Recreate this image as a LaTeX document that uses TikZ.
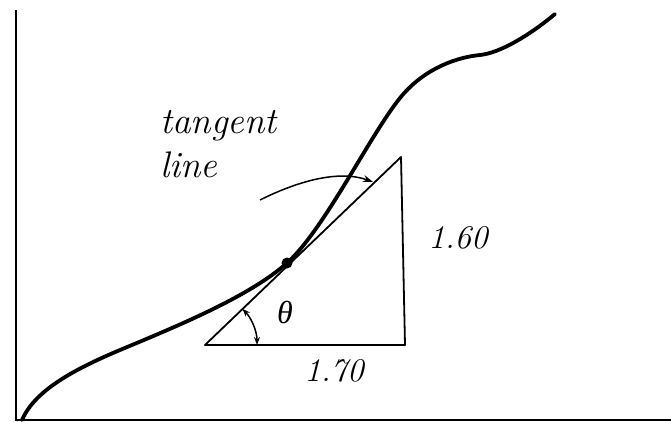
\documentclass[tikz,border=0pt]{standalone}
\usepackage{fontspec}
\newfontfamily\grkfont{Liberation Serif}
\usetikzlibrary{arrows.meta,calc}
\begin{document}
\begin{tikzpicture}[x=1pt,y=-1pt,
  axisline/.style={line width=2pt},
  curveline/.style={line width=3.8pt,line cap=round,line join=round},
  triline/.style={line width=1.8pt,line join=round},
  lbl/.style={inner sep=0pt,font=\fontsize{33}{40}\selectfont\itshape},
  biglbl/.style={inner sep=0pt,font=\fontsize{37}{44}\selectfont\itshape},
  ptr/.style={line width=1.5pt,-{Stealth[length=10pt,width=7pt]}}]
\useasboundingbox (0,0) rectangle (671,422);
% axes
\coordinate (ytop) at (16,10);
\coordinate (orig) at (16,420);
\coordinate (xend) at (671,420);
\draw[axisline] (ytop) -- (orig) -- (xend);
% curve
\coordinate (P) at (287,263);
\draw[curveline] (22,420) .. controls (35,390) and (75,369) .. (120,350)
  .. controls (180,325) and (250,296) .. (P)
  .. controls (324,230) and (370,135) .. (400,98)
  .. controls (420,73) and (450,58) .. (480,55)
  .. controls (500,53) and (530,35) .. (555,14);
% triangle
\coordinate (A) at (205,345);
\coordinate (B) at (405,345);
\coordinate (C) at (401,157);
\draw[triline] (A) -- (B) -- (C) -- cycle;
% point of tangency
\node[circle,fill=black,inner sep=0pt,minimum size=11pt] (dot) at (P) {};
% angle arc
\draw[line width=1.5pt,{Stealth[length=8pt,width=6pt]}-{Stealth[length=8pt,width=6pt]}]
  ($(A)+(-44:52)$) arc[start angle=-44,end angle=0,radius=52];
% labels
\node[biglbl,anchor=base west,align=left] (tl) at (160,178) {tangent\\line};
\coordinate (ts) at (260,200);
\coordinate (te) at (373,182);
\draw[ptr] (ts) .. controls (300,180) and (340,170) .. (te);
\node[inner sep=0pt,font=\fontsize{32}{36}\selectfont\grkfont\itshape] (theta) at (285,312) {θ};
\node[lbl] (v) at (458,238) {1.60};
\node[lbl] (h) at (334,371) {1.70};
\end{tikzpicture}
\end{document}
